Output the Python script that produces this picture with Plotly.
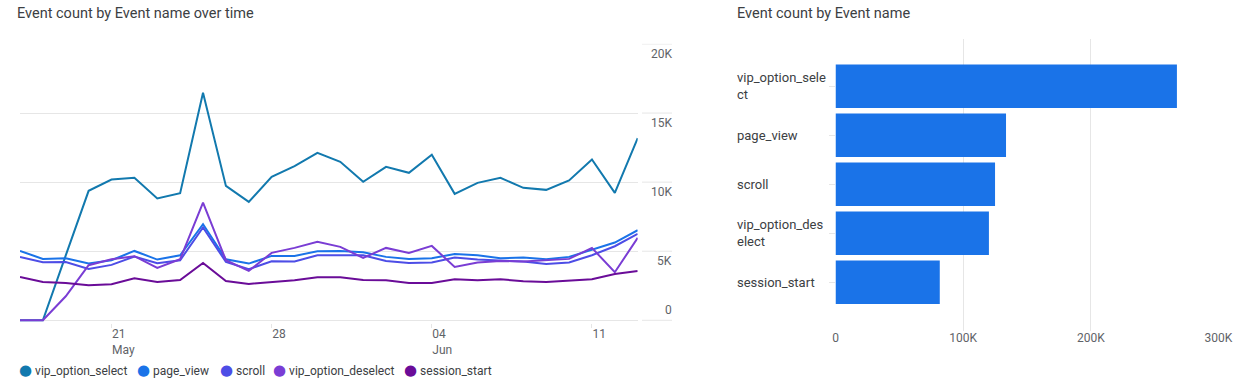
import plotly.graph_objects as go

# ---------------- data ----------------
dates = [
    "2023-05-17", "2023-05-18", "2023-05-19", "2023-05-20", "2023-05-21", "2023-05-22", "2023-05-23",
    "2023-05-24", "2023-05-25", "2023-05-26", "2023-05-27", "2023-05-28", "2023-05-29", "2023-05-30",
    "2023-05-31", "2023-06-01", "2023-06-02", "2023-06-03", "2023-06-04", "2023-06-05", "2023-06-06",
    "2023-06-07", "2023-06-08", "2023-06-09", "2023-06-10", "2023-06-11", "2023-06-12", "2023-06-13",
]

series_names = ["vip_option_select", "page_view", "scroll", "vip_option_deselect", "session_start"]
series_colors = ["#1279ae", "#1a73e8", "#4d4de6", "#7a3dd4", "#6a0c98"]

vip_option_select = [0, 0, 4700, 9370, 10190, 10310, 8815, 9200, 16470, 9730, 8570, 10385, 11160, 12120,
                     11470, 10020, 11110, 10675, 11980, 9150, 9950, 10310, 9590, 9440, 10120, 11640, 9225, 13185]
page_view = [5020, 4445, 4490, 4105, 4350, 5020, 4395, 4710, 6955, 4420, 4105, 4660, 4660, 5000,
             5020, 4925, 4590, 4445, 4490, 4805, 4710, 4490, 4540, 4420, 4590, 5120, 5630, 6520]
scroll = [4590, 4200, 4225, 3720, 4010, 4610, 4130, 4350, 6715, 4225, 3695, 4275, 4250, 4710,
          4710, 4710, 4300, 4155, 4180, 4540, 4395, 4300, 4250, 4080, 4180, 4710, 5360, 6255]
vip_option_deselect = [0, 0, 1740, 3985, 4420, 4640, 3790, 4420, 8525, 4350, 3575, 4880, 5240, 5675,
                       5315, 4515, 5240, 4880, 5385, 3865, 4180, 4300, 4250, 4350, 4445, 5240, 3480, 5965]
session_start = [3140, 2775, 2705, 2535, 2610, 3045, 2775, 2920, 4155, 2850, 2630, 2775, 2900, 3115,
                 3115, 2920, 2900, 2705, 2705, 2970, 2900, 2970, 2825, 2775, 2850, 2970, 3355, 3575]
series_values = [vip_option_select, page_view, scroll, vip_option_deselect, session_start]

bar_categories = ["vip_option_select", "page_view", "scroll", "vip_option_deselect", "session_start"]
bar_labels = ["vip_option_sele<br>ct", "page_view", "scroll", "vip_option_des<br>elect", "session_start"]
bar_values = [267500, 133600, 125000, 120200, 81700]
bar_color = "#1a73e8"

y_tick_vals = [0, 5000, 10000, 15000, 20000]
y_tick_text = ["0", "5K", "10K", "15K", "20K"]
x_tick_vals = ["2023-05-21", "2023-05-28", "2023-06-04", "2023-06-11"]
x_tick_text = ["21<br>May", "28", "04<br>Jun", "11"]
bar_tick_vals = [0, 100000, 200000, 300000]
bar_tick_text = ["0", "100K", "200K", "300K"]

left_title = "Event count by Event name over time"
right_title = "Event count by Event name"

# legend entry widths (px) so the entries sit as tightly as in the original
legend_widths = [73, 38, 8, 86, 100]

# ---------------- layout helpers ----------------
W, H = 1238, 387
def px_x(p):
    return p / W
def px_y(p):
    return 1 - p / H

grid = "#e6e6e6"
tick_font = dict(family="Roboto", size=12, color="#5f6368")
label_color = "#3c4043"

fig = go.Figure()
for name, color, vals in zip(series_names, series_colors, series_values):
    fig.add_trace(go.Scatter(x=dates, y=vals, mode="lines", name=name,
                             line=dict(color=color, width=2), showlegend=False,
                             xaxis="x", yaxis="y"))
# legend entries: a coloured dot sits right before each name, as in the original
for name, color, lw in zip(series_names, series_colors, legend_widths):
    entry = ("<span style='color:%s;font-family:DejaVu Sans;font-size:15px'>\u25CF</span> %s"
             % (color, name))
    fig.add_trace(go.Scatter(x=[None], y=[None], mode="markers", name=entry,
                             marker=dict(color=color, size=1, opacity=0), showlegend=True,
                             legendwidth=lw, xaxis="x", yaxis="y"))
fig.add_trace(go.Bar(x=bar_values, y=bar_categories, orientation="h",
                     marker=dict(color=bar_color, line=dict(width=0)),
                     showlegend=False, xaxis="x2", yaxis="y2"))

annotations = [
    dict(text=left_title, x=px_x(15), y=px_y(14), xref="paper", yref="paper",
         xanchor="left", yanchor="middle", showarrow=False,
         font=dict(family="Roboto", size=14.5, color=label_color)),
    dict(text=right_title, x=px_x(735), y=px_y(14), xref="paper", yref="paper",
         xanchor="left", yanchor="middle", showarrow=False,
         font=dict(family="Roboto", size=14.5, color=label_color)),
]
for cat, lab in zip(bar_categories, bar_labels):
    annotations.append(dict(text=lab, x=px_x(735), y=cat, xref="paper", yref="y2",
                            xanchor="left", yanchor="middle", align="left", showarrow=False,
                            font=dict(family="Roboto", size=13, color=label_color)))
# value-axis labels of the line chart (sit under their grid line, the zero one above it)
for v, t in zip(y_tick_vals, y_tick_text):
    annotations.append(dict(text=t, x=px_x(673.5), y=v, xref="paper", yref="y",
                            xanchor="right", yanchor="bottom" if v == 0 else "top",
                            yshift=1 if v == 0 else -1, showarrow=False, font=tick_font))

# short tick segments beside the value labels
shapes = [dict(type="line", xref="paper", yref="y", x0=px_x(642), x1=px_x(672), y0=v, y1=v,
               line=dict(color=grid, width=1)) for v in y_tick_vals]

fig.update_layout(
    width=W, height=H,
    margin=dict(l=0, r=0, t=0, b=0, autoexpand=False),
    paper_bgcolor="white", plot_bgcolor="white",
    font=tick_font,
    bargap=0.11,
    showlegend=True,
    xaxis=dict(domain=[px_x(20), px_x(637.7)], type="date", range=[dates[0], dates[-1]],
               tickvals=x_tick_vals, ticktext=x_tick_text, ticklabelposition="outside right",
               showgrid=False, zeroline=False, showline=False,
               ticks="outside", ticklen=4, tickcolor=grid, tickfont=tick_font, anchor="y"),
    yaxis=dict(domain=[px_y(323.06), px_y(43.7)], range=[-200, 20020],
               tickvals=y_tick_vals, showticklabels=False, showgrid=True, gridcolor=grid,
               gridwidth=1, zeroline=False, showline=False, anchor="x"),
    xaxis2=dict(domain=[px_x(835.5), px_x(1218.4)], range=[0, 300000],
                tickvals=bar_tick_vals, ticktext=bar_tick_text, showgrid=True, gridcolor=grid,
                zeroline=False, showline=False, tickfont=tick_font, ticklabelstandoff=-2,
                anchor="y2"),
    yaxis2=dict(domain=[px_y(331), px_y(39)], type="category", range=[4.994, -0.965],
                showticklabels=False, ticks="outside", ticklen=6, tickcolor=grid,
                showgrid=False, zeroline=False, showline=False, anchor="x2"),
    legend=dict(orientation="h", x=px_x(-21), xanchor="left", y=px_y(370), yanchor="middle",
                font=dict(family="Roboto", size=12, color=label_color),
                itemwidth=30, bgcolor="rgba(0,0,0,0)", traceorder="normal"),
    annotations=annotations,
    shapes=shapes,
)

fig.write_html("out.html", config={"displayModeBar": False},
               post_script="document.body.style.margin='0px';")
